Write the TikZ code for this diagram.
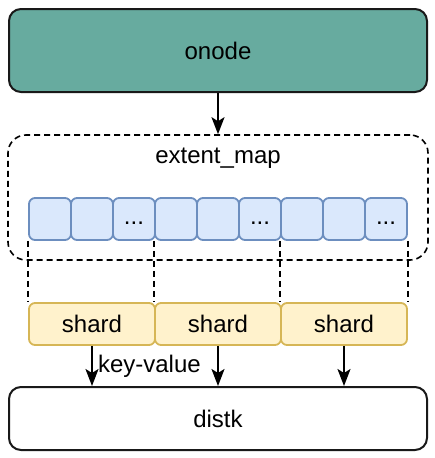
\documentclass[tikz,border=0pt]{standalone}
\usepackage{fontspec}
\setmainfont{Liberation Sans}
\usetikzlibrary{arrows.meta,positioning}

\definecolor{onodefill}{HTML}{67AB9F}
\definecolor{cellfill}{HTML}{DAE8FC}
\definecolor{celldraw}{HTML}{6C8EBF}
\definecolor{shardfill}{HTML}{FFF2CC}
\definecolor{sharddraw}{HTML}{D6B656}

\tikzset{
  box/.style={draw=black!90,line width=2pt,rounded corners=12pt,inner sep=0pt},
  cellbox/.style={draw=celldraw,fill=cellfill,line width=1.8pt,rounded corners=6pt,
    minimum width=42pt,minimum height=42pt,inner sep=0pt},
  shardbox/.style={draw=sharddraw,fill=shardfill,line width=1.8pt,rounded corners=6pt,
    minimum width=126pt,minimum height=42pt,inner sep=0pt},
  dashline/.style={line width=1.6pt,dash pattern=on 6pt off 4pt},
  arr/.style={line width=2pt,-{Stealth[length=17pt,width=13pt,inset=4pt]}}
}

\begin{document}
\begin{tikzpicture}[x=1pt,y=-1pt,font=\fontsize{24}{28}\selectfont]
  \useasboundingbox (0,0) rectangle (435,458);
  % top and bottom boxes
  \node [box,fill=onodefill,minimum width=418pt,minimum height=83pt] (onode) at (218,50.5) {onode};
  \node [box,fill=white,minimum width=418pt,minimum height=63pt] (distk) at (218,418.5) {distk};
  % extent map frame
  \node [dashline,draw,rounded corners=18pt,minimum width=420pt,minimum height=125pt] (emap) at (218,197.5) {};
  \node (emlabel) at (218,158) {extent\_map};
  \draw [arr] (onode) -- (emap);
  % cells
  \foreach \i in {1,...,9} {
    \pgfmathtruncatemacro{\r}{mod(\i,3)}
    \ifnum\r=0
      \node [cellbox] (c\i) at (8+42*\i,219) {\strut...};
    \else
      \node [cellbox] (c\i) at (8+42*\i,219) {};
    \fi
  }
  % shards
  \node [shardbox] (s1) at (92,324) {shard};
  \node [shardbox] (s2) at (218,324) {shard};
  \node [shardbox] (s3) at (344,324) {shard};
  \draw [dashline] (c1.south west) -- (s1.north west);
  \draw [dashline] (c4.south west) -- (s2.north west);
  \draw [dashline] (c7.south west) -- (s3.north west);
  \draw [dashline] (c9.south east) -- (s3.north east);
  % to disk
  \draw [arr] (s1) -- (s1.south |- distk.north) node [midway,right,inner sep=5pt] (kv) {key-value};
  \draw [arr] (s2) -- (s2.south |- distk.north);
  \draw [arr] (s3) -- (s3.south |- distk.north);
\end{tikzpicture}
\end{document}
